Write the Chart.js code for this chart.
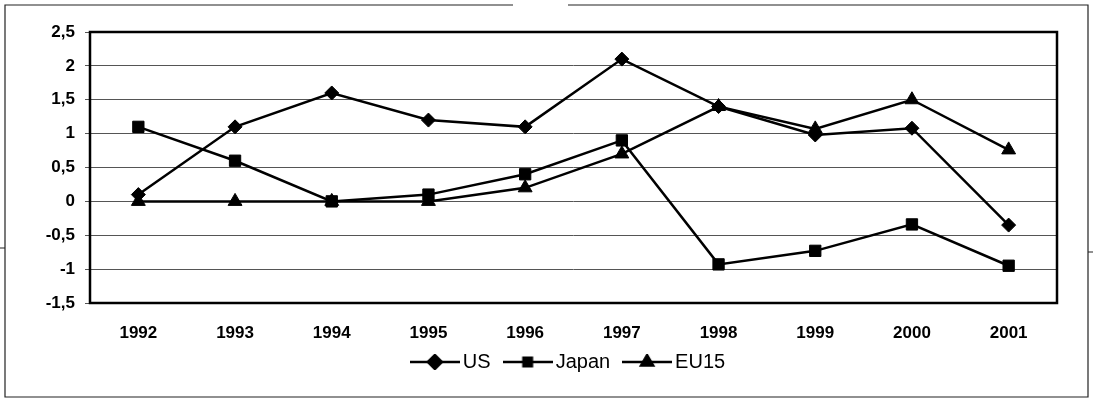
<!DOCTYPE html>
<html>
<head>
<meta charset="utf-8">
<script src="https://cdn.jsdelivr.net/npm/chart.js@4/dist/chart.umd.min.js"></script>
<style>
  html, body { margin: 0; padding: 0; background: #fff; }
  #wrap { width: 1093px; height: 401px; }
</style>
</head>
<body>
<div id="wrap"><canvas id="chart" width="1093" height="401"></canvas></div>
<script>
// data
const years = ["1992", "1993", "1994", "1995", "1996", "1997", "1998", "1999", "2000", "2001"];
const usValues = [0.1, 1.1, 1.6, 1.2, 1.1, 2.1, 1.4, 0.98, 1.08, -0.35];
const japanValues = [1.1, 0.6, 0, 0.1, 0.4, 0.9, -0.93, -0.73, -0.34, -0.95];
const eu15Values = [0, 0, 0, 0, 0.2, 0.7, 1.4, 1.07, 1.5, 0.76];
const yMin = -1.5;
const yMax = 2.5;
const yStep = 0.5;

const FONT = "'Liberation Sans', Arial, sans-serif";

// small line+marker pictures for the legend
function legendIcon(style) {
    const c = document.createElement("canvas");
    c.width = 50;
    c.height = 16;
    const ctx = c.getContext("2d");
    ctx.strokeStyle = "#000";
    ctx.fillStyle = "#000";
    ctx.lineWidth = 2.5;
    ctx.beginPath();
    ctx.moveTo(0, 8);
    ctx.lineTo(50, 8);
    ctx.stroke();
    Chart.helpers.drawPoint(ctx, {
        pointStyle: style,
        radius: style === "rect" ? 6 : 7,
        rotation: 0,
        borderWidth: 1
    }, 25, 8);
    return c;
}

// outer frame, plot area border, legend nudge
const framePlugin = {
    id: "frame",
    afterLayout(chart) {
        // the original legend sits right of centre and close under the years
        chart.legend.left += 40;
        chart.legend.right += 40;
        chart.legend.top -= 17;
        chart.legend.bottom -= 17;
    },
    beforeDraw(chart) {
        const ctx = chart.ctx;
        ctx.save();
        ctx.fillStyle = "#fff";
        ctx.fillRect(0, 0, chart.width, chart.height);
        ctx.strokeStyle = "#222";
        ctx.lineWidth = 1.2;
        ctx.beginPath();
        ctx.moveTo(513, 5);
        ctx.lineTo(5, 5);
        ctx.lineTo(5, 397);
        ctx.lineTo(1088, 397);
        ctx.lineTo(1088, 5);
        ctx.lineTo(568, 5);
        ctx.stroke();
        ctx.beginPath();
        ctx.moveTo(0, 248);
        ctx.lineTo(5, 248);
        ctx.moveTo(1088, 252);
        ctx.lineTo(1093, 252);
        ctx.stroke();
        ctx.restore();
    },
    afterDatasetsDraw(chart) {
        const a = chart.chartArea;
        const ctx = chart.ctx;
        ctx.save();
        ctx.strokeStyle = "#000";
        ctx.lineWidth = 2.5;
        ctx.strokeRect(a.left, a.top, a.right - a.left, a.bottom - a.top);
        ctx.restore();
    }
};

function makeSet(label, data, style, radius) {
    return {
        label: label,
        data: data,
        borderColor: "#000",
        backgroundColor: "#000",
        borderWidth: 2.5,
        pointStyle: style,
        pointRadius: radius,
        pointHoverRadius: radius,
        pointBorderWidth: 1,
        tension: 0
    };
}

const chart = new Chart(document.getElementById("chart"), {
    type: "line",
    data: {
        labels: years,
        datasets: [
            makeSet("US", usValues, "rectRot", 7),
            makeSet("Japan", japanValues, "rect", 8),
            makeSet("EU15", eu15Values, "triangle", 8)
        ]
    },
    options: {
        responsive: false,
        animation: false,
        events: [],
        layout: { padding: { left: 5, right: 36, top: 32, bottom: 2 } },
        scales: {
            x: {
                offset: true,
                grid: { display: false, drawTicks: false },
                border: { display: false },
                ticks: {
                    color: "#000",
                    padding: 20,
                    font: { family: FONT, size: 17, weight: "bold" },
                    maxRotation: 0
                },
                afterFit(scale) { scale.height = 47; }
            },
            y: {
                min: yMin,
                max: yMax,
                grid: { color: "#555", lineWidth: 1, tickLength: 5, drawTicks: true },
                border: { display: false },
                ticks: {
                    stepSize: yStep,
                    color: "#000",
                    padding: 10,
                    font: { family: FONT, size: 17, weight: "bold" },
                    callback: v => String(Math.round(v * 10) / 10).replace(".", ",")
                },
                afterFit(scale) { scale.width = 85; }
            }
        },
        plugins: {
            tooltip: { enabled: false },
            legend: {
                position: "bottom",
                labels: {
                    color: "#000",
                    font: { family: FONT, size: 20 },
                    usePointStyle: true,
                    pointStyleWidth: 36,
                    padding: 19,
                    generateLabels(chart) {
                        const items = Chart.defaults.plugins.legend.labels.generateLabels(chart);
                        items.forEach(it => {
                            const ds = chart.data.datasets[it.datasetIndex];
                            it.pointStyle = legendIcon(ds.pointStyle);
                        });
                        return items;
                    }
                }
            }
        }
    },
    plugins: [framePlugin]
});
</script>
</body>
</html>
